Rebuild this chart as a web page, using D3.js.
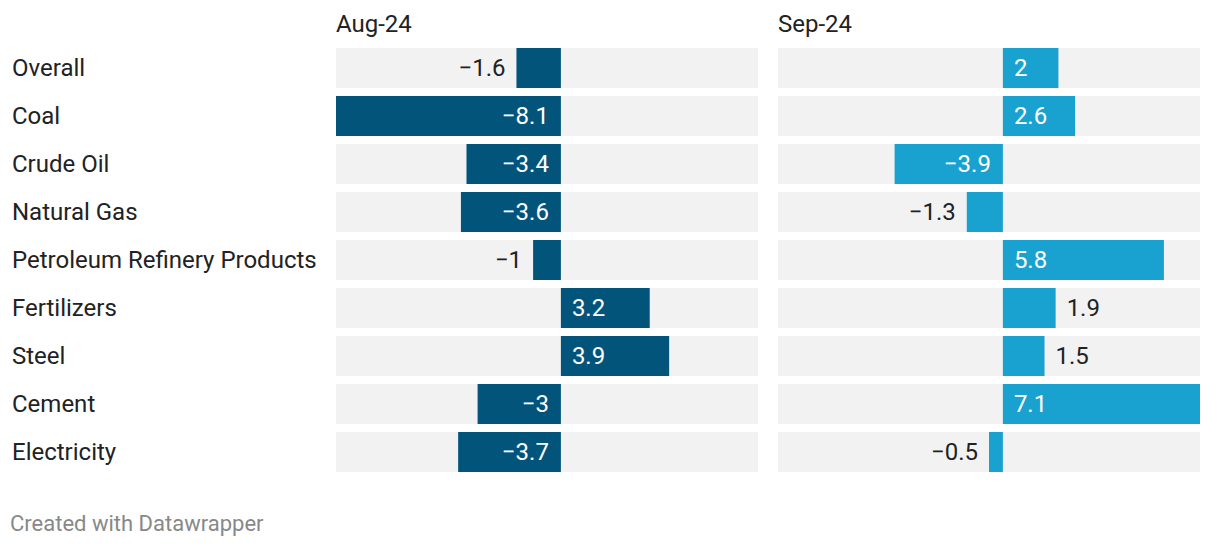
<!DOCTYPE html>
<html>
<head>
<meta charset="utf-8">
<script src="https://cdn.jsdelivr.net/npm/d3@7/dist/d3.min.js"></script>
<style>
  body { margin: 0; background: #fff; font-family: Roboto, sans-serif; }
</style>
</head>
<body>
<div class="chart"></div>
<script>
const categories = ["Overall", "Coal", "Crude Oil", "Natural Gas", "Petroleum Refinery Products", "Fertilizers", "Steel", "Cement", "Electricity"];
const periods = ["Aug-24", "Sep-24"];
const aug24 = [-1.6, -8.1, -3.4, -3.6, -1, 3.2, 3.9, -3, -3.7];
const sep24 = [2, 2.6, -3.9, -1.3, 5.8, 1.9, 1.5, 7.1, -0.5];
const seriesColors = ["#02547b", "#19a2cf"];

const width = 1220;
const height = 548;
const fmt = v => (v < 0 ? "\u2212" : "") + Math.abs(v);

const svg = d3.select(".chart")
    .append("svg")
    .attr("width", width)
    .attr("height", height);

const y = d3.scaleBand()
    .domain(categories)
    .range([48, 472])
    .paddingInner(8 / 48)
    .paddingOuter(0);

const allValues = aug24.concat(sep24);
const domain = [d3.min(allValues), d3.max(allValues)];

const panels = [
    { name: periods[0], values: aug24, color: seriesColors[0], x0: 336, x1: 758 },
    { name: periods[1], values: sep24, color: seriesColors[1], x0: 778, x1: 1200 }
];

// category labels
svg.selectAll(".cat")
    .data(categories)
    .enter()
    .append("text")
    .attr("class", "cat")
    .attr("x", 12)
    .attr("y", d => y(d) + y.bandwidth() / 2)
    .attr("dy", "0.35em")
    .attr("font-size", 24)
    .attr("fill", "#222")
    .text(d => d);

panels.forEach(p => {
    const x = d3.scaleLinear().domain(domain).range([p.x0, p.x1]);
    const g = svg.append("g");

    g.append("text")
        .attr("x", p.x0)
        .attr("y", 32)
        .attr("font-size", 24)
        .attr("fill", "#222")
        .text(p.name);

    const rows = categories.map((c, i) => ({ cat: c, value: p.values[i] }));

    g.selectAll(".bg")
        .data(rows)
        .enter()
        .append("rect")
        .attr("x", p.x0)
        .attr("y", d => y(d.cat))
        .attr("width", p.x1 - p.x0)
        .attr("height", y.bandwidth())
        .attr("fill", "#f2f2f2");

    g.selectAll(".bar")
        .data(rows)
        .enter()
        .append("rect")
        .attr("x", d => x(Math.min(0, d.value)))
        .attr("y", d => y(d.cat))
        .attr("width", d => Math.abs(x(d.value) - x(0)))
        .attr("height", y.bandwidth())
        .attr("fill", p.color);

    g.selectAll(".val")
        .data(rows)
        .enter()
        .append("text")
        .attr("font-size", 24)
        .attr("y", d => y(d.cat) + y.bandwidth() / 2)
        .attr("dy", "0.35em")
        .each(function (d) {
            const inside = Math.abs(d.value) >= 2;
            const neg = d.value < 0;
            let xp, anchor;
            if (neg) {
                xp = inside ? x(0) - 12 : x(d.value) - 11;
                anchor = "end";
            } else {
                xp = inside ? x(0) + 11 : x(d.value) + 11;
                anchor = "start";
            }
            d3.select(this)
                .attr("x", xp)
                .attr("text-anchor", anchor)
                .attr("fill", inside ? "#fff" : "#222")
                .text(fmt(d.value));
        });
});

svg.append("text")
    .attr("x", 10)
    .attr("y", 531)
    .attr("font-size", 22)
    .attr("fill", "#888")
    .text("Created with Datawrapper");
</script>
</body>
</html>
